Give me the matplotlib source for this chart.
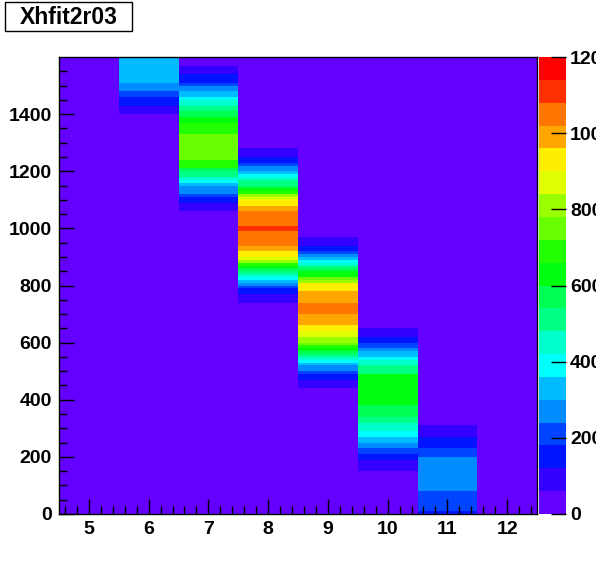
import colorsys
import numpy as np
import matplotlib
matplotlib.use("Agg")
import matplotlib.pyplot as plt
from matplotlib.colors import ListedColormap, BoundaryNorm
from matplotlib.patches import Rectangle

# ---------------- data ----------------
title = "Xhfit2r03"
x_centers = [5, 6, 7, 8, 9, 10, 11, 12]
y_bin_width = 10
y_max = 1600
z_max = 1200
n_levels = 20
y_tick_values = [0, 200, 400, 600, 800, 1000, 1200, 1400]
z_tick_values = [0, 200, 400, 600, 800, 1000, 1200]

# per column: lower edge of first filled y bin and bin contents going upward
col5_start, col5_counts = 0, []
col6_start = 1400
col6_counts = [90, 90, 90, 150, 150, 150, 210, 210, 270, 270, 270,
               330, 330, 330, 330, 330, 330, 330, 330, 330]
col7_start = 1060
col7_counts = [90, 90, 90, 150, 150, 210, 270, 270, 270, 330, 390, 450, 510, 510,
               570, 690, 690, 690, 750, 750, 750, 750, 750, 750, 750, 750, 750,
               690, 690, 690, 690, 630, 630, 570, 570, 510, 510, 450, 450, 390,
               330, 330, 270, 270, 210, 150, 150, 150, 90, 90, 90]
col8_start = 740
col8_counts = [90, 90, 90, 150, 150, 210, 270, 330, 390, 450, 510, 570, 630, 690,
               810, 870, 930, 930, 990, 990, 1050, 1050, 1050, 1050, 1050, 1110,
               1110, 1050, 1050, 1050, 1050, 1050, 990, 990, 930, 930, 870, 810,
               690, 630, 570, 510, 510, 450, 390, 330, 270, 270, 210, 150, 150,
               90, 90, 90]
col9_start = 440
col9_counts = [90, 90, 90, 150, 150, 210, 270, 270, 330, 390, 450, 510, 570, 630,
               690, 750, 810, 810, 870, 870, 930, 930, 990, 990, 990, 990, 1050,
               1050, 1050, 1050, 990, 990, 990, 990, 930, 930, 930, 810, 750, 630,
               630, 570, 510, 450, 390, 330, 270, 210, 150, 150, 90, 90, 90]
col10_start = 150
col10_counts = [90, 90, 90, 90, 150, 150, 210, 210, 270, 270, 330, 330, 390, 390,
                450, 450, 450, 510, 510, 570, 570, 570, 570, 630, 630, 630, 630,
                630, 630, 630, 630, 630, 630, 630, 510, 510, 510, 450, 450, 390,
                330, 330, 270, 210, 210, 150, 150, 90, 90, 90]
col11_start = 0
col11_counts = [150, 210, 210, 210, 210, 210, 210, 210, 270, 270, 270, 270, 270,
                270, 270, 270, 270, 270, 270, 270, 210, 210, 210, 150, 150, 150,
                150, 90, 90, 90, 90]
col12_start, col12_counts = 0, []

columns = [(col5_start, col5_counts), (col6_start, col6_counts),
           (col7_start, col7_counts), (col8_start, col8_counts),
           (col9_start, col9_counts), (col10_start, col10_counts),
           (col11_start, col11_counts), (col12_start, col12_counts)]

# ---------------- build histogram ----------------
ny = y_max // y_bin_width
Z = np.zeros((ny, len(x_centers)))
for j, (start, counts) in enumerate(columns):
    i0 = start // y_bin_width
    for k, c in enumerate(counts):
        if i0 + k < ny:
            Z[i0 + k, j] = c
x_edges = np.arange(x_centers[0] - 0.5, x_centers[-1] + 1.0, 1.0)
y_edges = np.arange(0, y_max + y_bin_width, y_bin_width)

# ROOT "pretty" palette (50 hues) sampled for 20 contour levels
pal50 = []
for i in range(50):
    hue = 280.0 - (i + 1) * (280.0 / 50)
    pal50.append(colorsys.hls_to_rgb(hue / 360.0, 0.5, 1.0))
colors = [pal50[int((i + 0.99) * 50 / n_levels)] for i in range(n_levels)]
cmap = ListedColormap(colors)
levels = np.linspace(0, z_max, n_levels + 1)
norm = BoundaryNorm(levels, n_levels)

# ---------------- figure ----------------
W, H = 596, 572
fig = plt.figure(figsize=(W / 100, H / 100), dpi=100)
plt.rcParams['font.family'] = ['Liberation Sans', 'DejaVu Sans']
LABEL_FS = 14

ax = fig.add_axes([59 / W, 1 - 514 / H, 478 / W, 457 / H])
mesh = ax.pcolormesh(x_edges, y_edges, Z, cmap=cmap, norm=norm, shading='flat')
ax.set_xlim(x_edges[0], x_edges[-1])
ax.set_ylim(0, y_max)

ax.set_xticks(x_centers)
ax.set_xticklabels([str(v) for v in x_centers])
ax.set_xticks(np.arange(4.6, 12.5, 0.2), minor=True)
ax.set_yticks(y_tick_values)
ax.set_yticklabels([str(v) for v in y_tick_values])
ax.set_yticks(np.arange(0, y_max, 50), minor=True)

ax.tick_params(axis='both', which='both', direction='in', color='black',
               width=1, top=False, right=False)
ax.tick_params(axis='x', which='major', length=10.5, pad=5)
ax.tick_params(axis='x', which='minor', length=5.5)
ax.tick_params(axis='y', which='major', length=10.5, pad=5)
ax.tick_params(axis='y', which='minor', length=5.5)
for lab in ax.get_xticklabels() + ax.get_yticklabels():
    lab.set_fontsize(LABEL_FS)
    lab.set_fontweight('bold')
for sp in ax.spines.values():
    sp.set_color('black')
    sp.set_linewidth(1)

# colour bar (palette axis)
cax = fig.add_axes([539 / W, 1 - 514 / H, 27 / W, 457 / H])
cb = fig.colorbar(mesh, cax=cax, ticks=z_tick_values)
cb.outline.set_visible(False)
cax.set_yticklabels([str(v) for v in z_tick_values])
cax.tick_params(axis='y', which='major', direction='in', length=11, width=1,
                color='black', pad=3, right=True, left=False)
cax.tick_params(axis='y', which='minor', length=0)
for lab in cax.get_yticklabels():
    lab.set_fontsize(LABEL_FS)
    lab.set_fontweight('bold')

# title box
fig.patches.append(Rectangle((5 / W, 1 - 31 / H), 127 / W, 29 / H,
                             transform=fig.transFigure, facecolor='white',
                             edgecolor='black', linewidth=1))
fig.text(68.5 / W, 1 - 17 / H, title, ha='center', va='center',
         fontsize=16.5, fontweight='bold')

fig.savefig("out.png", dpi=100)
